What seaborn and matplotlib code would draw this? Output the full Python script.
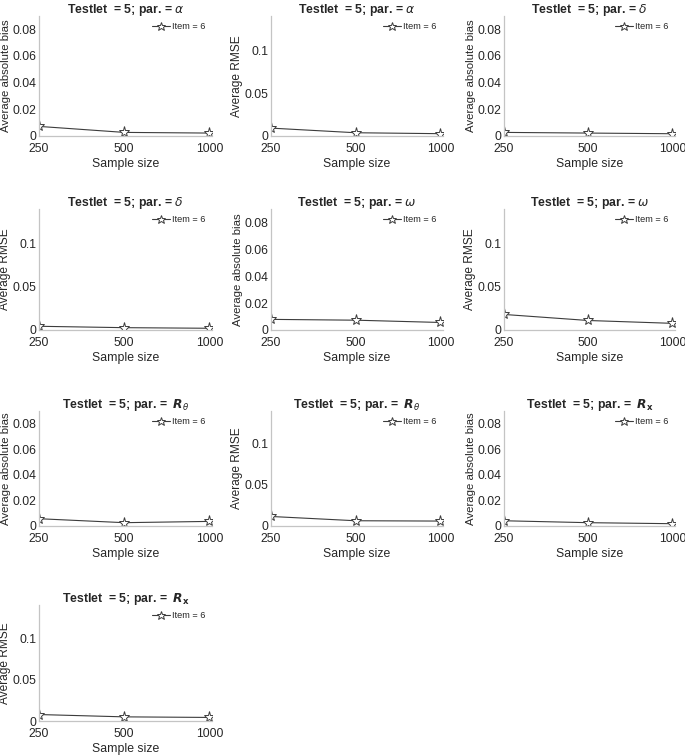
import matplotlib
matplotlib.use("Agg")
import matplotlib.pyplot as plt
import seaborn as sns

sizes = ["250", "500", "1000"]
item_label = "Item = 6"

titles = [
    r"Testlet  = 5; par. = $\alpha$",
    r"Testlet  = 5; par. = $\alpha$",
    r"Testlet  = 5; par. = $\delta$",
    r"Testlet  = 5; par. = $\delta$",
    r"Testlet  = 5; par. = $\omega$",
    r"Testlet  = 5; par. = $\omega$",
    r"Testlet  = 5; par. =  $\mathbfit{R}_{\mathit{\theta}}$",
    r"Testlet  = 5; par. =  $\mathbfit{R}_{\mathit{\theta}}$",
    r"Testlet  = 5; par. =  $\mathbfit{R}_{\mathbf{x}}$",
    r"Testlet  = 5; par. =  $\mathbfit{R}_{\mathbf{x}}$",
]
metrics = ["bias", "rmse"] * 5

alpha_bias = [0.0072, 0.0027, 0.0022]
alpha_rmse = [0.0092, 0.0038, 0.0027]
delta_bias = [0.0027, 0.0022, 0.0017]
delta_rmse = [0.0043, 0.0027, 0.0020]
omega_bias = [0.0079, 0.0073, 0.0056]
omega_rmse = [0.0180, 0.0110, 0.0077]
rtheta_bias = [0.0057, 0.0026, 0.0036]
rtheta_rmse = [0.0116, 0.0064, 0.0060]
rx_bias = [0.0041, 0.0026, 0.0018]
rx_rmse = [0.0078, 0.0050, 0.0043]

series = [alpha_bias, alpha_rmse, delta_bias, delta_rmse, omega_bias,
          omega_rmse, rtheta_bias, rtheta_rmse, rx_bias, rx_rmse]

sns.set_theme(style="white")
plt.rcParams["font.family"] = ["Liberation Sans", "DejaVu Sans"]
plt.rcParams["mathtext.fontset"] = "dejavusans"

W, H = 685, 755
fig = plt.figure(figsize=(W / 100, H / 100), dpi=100)

col_left = [39, 271, 504]
col_w = [173, 172, 171]
row_box = [(16, 136), (209, 330), (411, 526), (605, 721)]

axis_grey = "#c4c4c4"
text_grey = "#262626"
line_col = "#3c3c3c"

for i, (vals, title, metric) in enumerate(zip(series, titles, metrics)):
    r, c = divmod(i, 3)
    top, bot = row_box[r]
    ax = fig.add_axes([col_left[c] / W, 1 - bot / H, col_w[c] / W, (bot - top) / H])
    sns.lineplot(x=sizes, y=vals, ax=ax, color=line_col, lw=0.8,
                 marker="*", markersize=8, markerfacecolor="white",
                 markeredgecolor=line_col, markeredgewidth=0.7,
                 label=item_label, sort=False)
    ax.set_xlim(0, 2.03)
    if metric == "bias":
        ax.set_ylim(0, 0.09)
        ax.set_yticks([0, 0.02, 0.04, 0.06, 0.08])
        ax.set_yticklabels(["0", "0.02", "0.04", "0.06", "0.08"])
        ax.set_ylabel("Average absolute bias", fontsize=8.2, color=text_grey, labelpad=1)
    else:
        ax.set_ylim(0, 0.14)
        ax.set_yticks([0, 0.05, 0.1])
        ax.set_yticklabels(["0", "0.05", "0.1"])
        ax.set_ylabel("Average RMSE", fontsize=8.6, color=text_grey, labelpad=1)
    ax.set_xlabel("Sample size", fontsize=8.8, color=text_grey, labelpad=2)
    ax.set_title(title, fontsize=8.8, fontweight="bold", pad=2.5)
    for side in ["top", "right"]:
        ax.spines[side].set_visible(False)
    for side in ["left", "bottom"]:
        ax.spines[side].set_color(axis_grey)
        ax.spines[side].set_linewidth(0.9)
    ax.tick_params(axis="y", labelsize=8.8, colors=text_grey, length=0, pad=2)
    ax.tick_params(axis="x", labelsize=8.8, colors=text_grey, length=0, pad=5)
    ax.legend(loc="upper right", frameon=False, fontsize=6.6,
              handlelength=2.0, handletextpad=0.2, markerscale=0.8,
              borderaxespad=0.3)

fig.savefig("out.png", dpi=100)
